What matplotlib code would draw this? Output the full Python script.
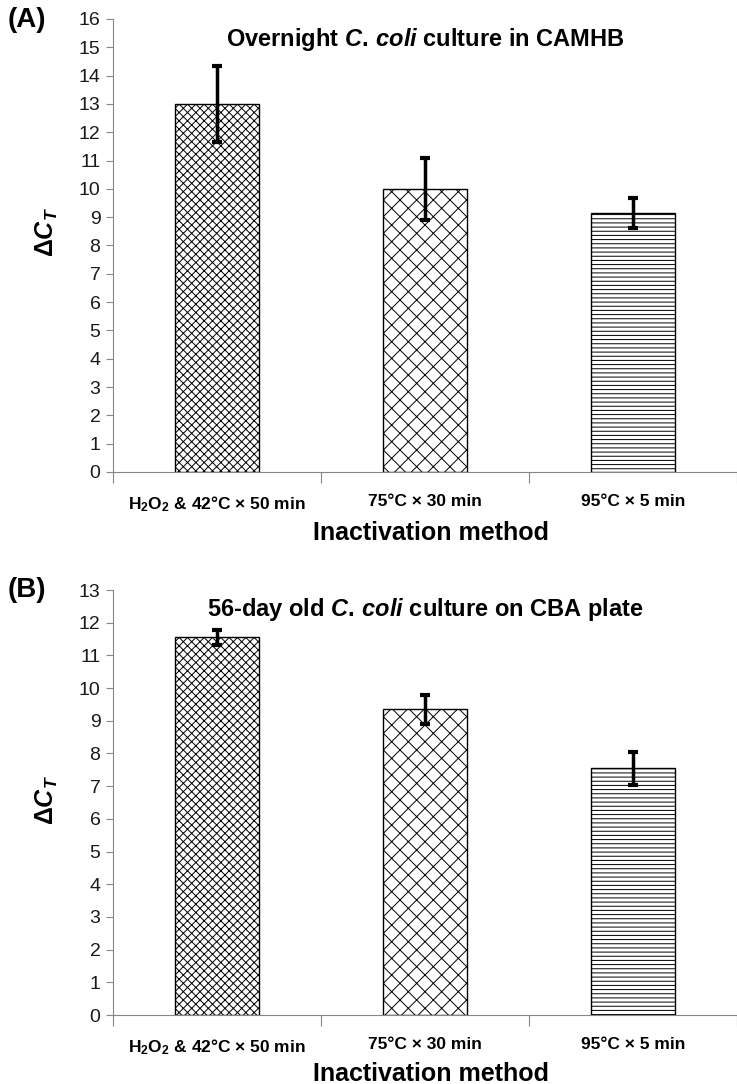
import numpy as np
import matplotlib.pyplot as plt

plt.rcParams['font.family'] = ['Liberation Sans', 'DejaVu Sans']
plt.rcParams['mathtext.fontset'] = 'custom'
plt.rcParams['mathtext.rm'] = 'Liberation Sans:bold'
plt.rcParams['mathtext.it'] = 'Liberation Sans:italic:bold'
plt.rcParams['mathtext.bf'] = 'Liberation Sans:bold'
plt.rcParams['hatch.linewidth'] = 0.7

methods = [r'H$_\mathrm{2}$O$_\mathrm{2}$ & 42°C × 50 min', '75°C × 30 min', '95°C × 5 min']
ct_a = [13.0, 10.0, 9.15]
err_a = [1.33, 1.1, 0.52]
ct_b = [11.55, 9.35, 7.55]
err_b = [0.22, 0.45, 0.5]
titles = [r'Overnight $C.\,coli$ culture in CAMHB', r'56-day old $C.\,coli$ culture on CBA plate']
ymax = [16, 13]
hatches = ['xxxx', 'xx', '----']

fig = plt.figure(figsize=(7.37, 10.84), dpi=100)
axA = fig.add_axes([0.1533, 0.5646, 0.8467, 0.4179])
axB = fig.add_axes([0.1533, 0.0636, 0.8467, 0.3921])

x = np.arange(len(methods))
gray = '#868686'
for ax, vals, errs, title, top in [(axA, ct_a, err_a, titles[0], ymax[0]),
                                   (axB, ct_b, err_b, titles[1], ymax[1])]:
    bars = ax.bar(x, vals, width=0.405, color='white', edgecolor='black', linewidth=1.0)
    for b, h in zip(bars, hatches):
        b.set_hatch(h)
    ax.errorbar(x, vals, yerr=errs, fmt='none', ecolor='black', elinewidth=2.5,
                capsize=3.5, capthick=3)
    ax.set_xlim(-0.5, 2.47)
    ax.set_ylim(0, top)
    ax.set_yticks(range(0, top + 1))
    ax.tick_params(axis='y', labelsize=14, color=gray, length=5, pad=4, labelcolor='#1a1a1a')
    ax.set_xticks([-0.5, 0.5, 1.5, 2.5])
    ax.set_xticklabels([])
    ax.set_xticks(x, minor=True)
    ax.set_xticklabels(methods, minor=True, fontsize=12.5, fontweight='bold')
    ax.tick_params(axis='x', which='major', color=gray, length=8, direction='out')
    ax.tick_params(axis='x', which='minor', length=0, pad=16)
    for s in ['top', 'right']:
        ax.spines[s].set_visible(False)
    for s in ['left', 'bottom']:
        ax.spines[s].set_color(gray)
    ax.text(0.5, 0.955, title, transform=ax.transAxes, ha='center', va='center',
            fontsize=17, fontweight='bold')

fig.text(0.585, 1 - 533 / 1084, 'Inactivation method', ha='center', va='center',
         fontsize=18, fontweight='bold')
fig.text(0.585, 1 - 1074 / 1084, 'Inactivation method', ha='center', va='center',
         fontsize=18, fontweight='bold')
fig.text(47 / 737, 1 - 232 / 1084, r'Δ$C_T$', rotation=90, ha='center', va='center',
         fontsize=18, fontweight='bold')
fig.text(47 / 737, 1 - 800 / 1084, r'Δ$C_T$', rotation=90, ha='center', va='center',
         fontsize=18, fontweight='bold')
fig.text(8 / 737, 1 - 20 / 1084, '(A)', ha='left', va='center', fontsize=20, fontweight='bold')
fig.text(8 / 737, 1 - 590 / 1084, '(B)', ha='left', va='center', fontsize=20, fontweight='bold')

plt.savefig('out.png', dpi=100)
